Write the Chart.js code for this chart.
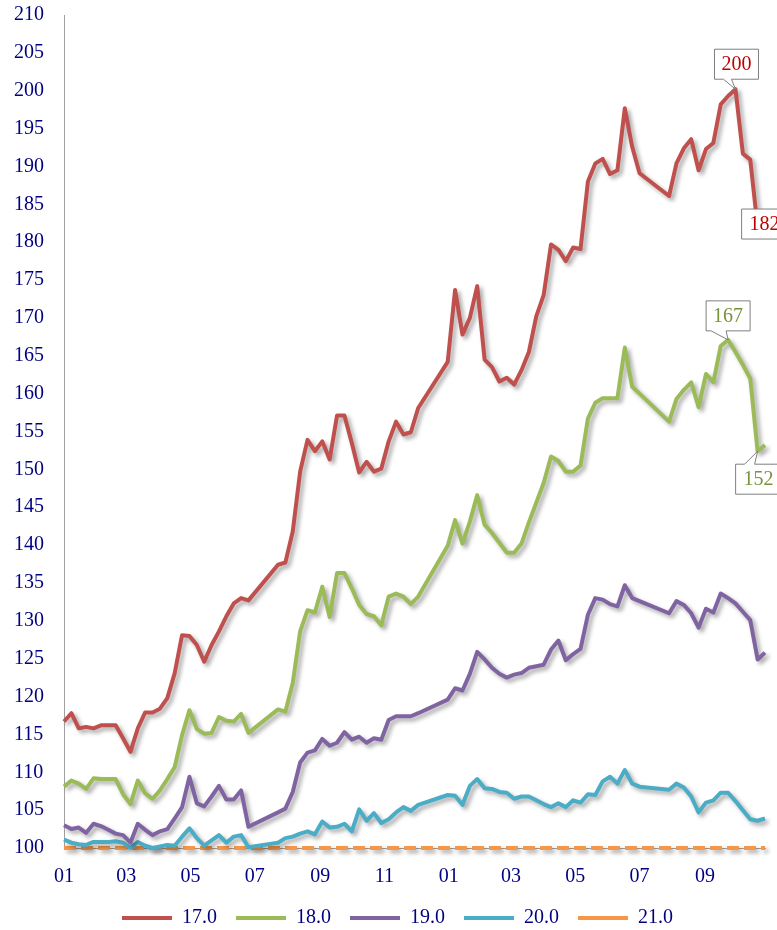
<!DOCTYPE html>
<html>
<head>
<meta charset="utf-8">
<script src="https://cdn.jsdelivr.net/npm/chart.js@4.4.1/dist/chart.umd.min.js"></script>
<style>
  html, body { margin: 0; padding: 0; background: #fff; }
  #wrap { width: 777px; height: 930px; position: relative; }
</style>
</head>
<body>
<div id="wrap"><canvas id="chart"></canvas></div>
<script>
// weekly observations, first week starting 2017-01-01
const startDate = '2017-01-01';
const weekCount = 96;

// x axis tick labels (every second month)
const tickDates = ['2017-01-01', '2017-03-01', '2017-05-01', '2017-07-01', '2017-09-01', '2017-11-01',
                   '2018-01-01', '2018-03-01', '2018-05-01', '2018-07-01', '2018-09-01'];
const tickMonths = ['01', '03', '05', '07', '09', '11', '01', '03', '05', '07', '09'];

const seriesNames = ['17.0', '18.0', '19.0', '20.0', '21.0'];

const s17 = [116.7, 117.8, 115.8, 116.0, 115.8, 116.2, 116.2, 116.2, 114.5, 112.7, 115.8, 117.9,
             117.9, 118.4, 119.8, 123.1, 128.1, 128.0, 126.8, 124.6, 126.8, 128.6, 130.6, 132.3,
             133.0, 132.7, null, null, null, 137.4, 137.7, 141.8, 149.7, 153.9, 152.4, 153.7,
             151.3, 157.1, 157.1, 153.5, 149.6, 151.0, 149.7, 150.1, 153.7, 156.3, 154.6, 154.9,
             158.1, null, null, null, 164.2, 173.7, 167.8, 170.0, 174.2, 164.5, 163.5, 161.6,
             162.1, 161.2, 163.1, 165.5, 170.2, 173.0, 179.7, 179.0, 177.5, 179.3, 179.1, 188.0,
             190.4, 191.0, 189.0, 189.5, 197.7, 192.6, 189.1, null, null, null, 186.1, 190.4,
             192.4, 193.6, 189.5, 192.3, 193.1, 198.2, 199.3, 200.2, 191.7, 190.9, 182.0, 182.6];

const s18 = [108.1, 108.9, 108.5, 107.8, 109.2, 109.1, 109.1, 109.1, 107.1, 105.8, 108.9, 107.2,
             106.5, 107.6, 109.1, 110.7, 114.9, 118.2, 115.7, 115.1, 115.2, 117.3, 116.8, 116.7,
             117.7, 115.2, null, null, null, 118.3, 118.0, 121.8, 128.6, 131.4, 131.1, 134.5,
             130.5, 136.3, 136.3, 134.3, 132.1, 130.9, 130.6, 129.4, 133.2, 133.6, 133.2, 132.2,
             133.2, null, null, null, 139.9, 143.3, 140.2, 143.1, 146.6, 142.7, 141.6, 140.3,
             139.0, 139.0, 140.2, 143.0, 145.6, 148.2, 151.7, 151.1, 149.7, 149.7, 150.5, 156.7,
             158.8, 159.4, 159.4, 159.4, 166.1, 160.9, 160.0, null, null, null, 156.3, 159.3,
             160.5, 161.5, 158.2, 162.6, 161.5, 166.3, 167.1, 165.5, 163.8, 162.0, 152.4, 153.2];

const s19 = [103.0, 102.5, 102.7, 102.0, 103.2, 102.9, 102.4, 101.9, 101.7, 100.7, 103.2, 102.4,
             101.7, 102.2, 102.5, 103.9, 105.4, 109.4, 105.9, 105.5, 106.8, 108.2, 106.4, 106.4,
             107.6, 102.8, null, null, null, 104.7, 105.2, 107.4, 111.3, 112.6, 112.9, 114.4,
             113.5, 113.9, 115.3, 114.3, 114.7, 113.9, 114.5, 114.3, 116.9, 117.4, 117.4, 117.4,
             117.8, null, null, null, 119.6, 121.1, 120.8, 123.0, 125.9, 124.9, 123.8, 123.0,
             122.5, 122.9, 123.1, 123.8, 124.0, 124.2, 126.2, 127.4, 124.8, 125.6, 126.3, 130.8,
             133.0, 132.8, 132.2, 131.9, 134.7, 133.0, 132.6, null, null, null, 131.0, 132.6,
             132.1, 131.0, 129.1, 131.6, 131.1, 133.6, 133.0, 132.3, 131.2, 130.1, 124.9, 125.8];

const s20 = [101.1, 100.7, 100.5, 100.4, 100.8, 100.8, 100.8, 100.9, 100.7, 100.0, 100.8, 100.3,
             100.0, 100.2, 100.4, 100.3, 101.5, 102.6, 101.3, 100.3, 101.0, 101.7, 100.7, 101.5,
             101.7, 100.1, null, null, null, 100.7, 101.3, 101.5, 101.9, 102.2, 101.8, 103.5,
             102.7, 102.8, 103.2, 102.2, 105.1, 103.6, 104.6, 103.3, 103.8, 104.7, 105.4, 104.9,
             105.7, null, null, null, 107.0, 106.9, 105.7, 108.2, 109.1, 107.9, 107.8, 107.4,
             107.3, 106.5, 106.8, 106.8, 106.3, 105.8, 105.4, 105.9, 105.4, 106.3, 106.0, 107.1,
             107.0, 108.8, 109.4, 108.5, 110.3, 108.5, 108.1, null, null, null, 107.7, 108.5,
             108.0, 106.8, 104.7, 106.0, 106.3, 107.3, 107.3, 106.2, 105.0, 103.8, 103.6, 103.9];

const s21 = [100, 100, 100, 100, 100, 100, 100, 100, 100, 100, 100, 100,
             100, 100, 100, 100, 100, 100, 100, 100, 100, 100, 100, 100,
             100, 100, 100, 100, 100, 100, 100, 100, 100, 100, 100, 100,
             100, 100, 100, 100, 100, 100, 100, 100, 100, 100, 100, 100,
             100, 100, 100, 100, 100, 100, 100, 100, 100, 100, 100, 100,
             100, 100, 100, 100, 100, 100, 100, 100, 100, 100, 100, 100,
             100, 100, 100, 100, 100, 100, 100, 100, 100, 100, 100, 100,
             100, 100, 100, 100, 100, 100, 100, 100, 100, 100, 100, 100];

const colors = ['#C0504D', '#9BBB59', '#8064A2', '#4BACC6', '#F79646'];
const navy = '#000080';
const serif = "'Liberation Serif', 'Times New Roman', serif";

// day offsets of each weekly point and of the month ticks
const dayNums = [];
for (let i = 0; i < weekCount; i++) dayNums.push(i * 7);
const dayOf = d => Math.round((Date.parse(d) - Date.parse(startDate)) / 86400000);
const tickDays = tickDates.map(dayOf);

function toPoints(values) {
    return values.map((v, i) => ({ x: dayNums[i], y: v }));
}

// callout boxes pinned to data points
const callouts = [
    { ds: 0, idx: 91, w: 44, h: 30, dx: 1, dy: -25, side: 'bottom', b1: -12, b2: -4, color: '#C00000' },
    { ds: 0, idx: 94, w: 46, h: 30, dx: 7, dy: -3, side: 'none', color: '#C00000' },
    { ds: 1, idx: 90, w: 44, h: 30, dx: 0, dy: -24, side: 'bottom', b1: -17, b2: -2, color: '#77933C' },
    { ds: 1, idx: 94, w: 46, h: 30, dx: 1, dy: 28, side: 'top', b1: -13, b2: -3, color: '#77933C' }
];

const shadowPlugin = {
    id: 'lineShadow',
    beforeDatasetDraw(chart) {
        const ctx = chart.ctx;
        ctx.save();
        ctx.shadowColor = 'rgba(0, 0, 0, 0.35)';
        ctx.shadowBlur = 4;
        ctx.shadowOffsetX = 3;
        ctx.shadowOffsetY = 3;
    },
    afterDatasetDraw(chart) {
        chart.ctx.restore();
    }
};

// legend sits a bit right of the canvas centre in the original
const legendShift = {
    id: 'legendShift',
    afterLayout(chart) {
        chart.legend.left += 8;
        chart.legend.right += 8;
    }
};

const calloutPlugin = {
    id: 'callouts',
    afterDatasetsDraw(chart) {
        const ctx = chart.ctx;
        callouts.forEach(c => {
            const pt = chart.getDatasetMeta(c.ds).data[c.idx];
            const value = chart.data.datasets[c.ds].data[c.idx].y;
            const cx = pt.x + c.dx, cy = pt.y + c.dy;
            const x = cx - c.w / 2, y = cy - c.h / 2;
            ctx.save();
            ctx.beginPath();
            if (c.side === 'bottom') {
                ctx.moveTo(x, y);
                ctx.lineTo(x + c.w, y);
                ctx.lineTo(x + c.w, y + c.h);
                ctx.lineTo(pt.x + c.b2, y + c.h);
                ctx.lineTo(pt.x, pt.y);
                ctx.lineTo(pt.x + c.b1, y + c.h);
                ctx.lineTo(x, y + c.h);
            } else if (c.side === 'top') {
                ctx.moveTo(x, y);
                ctx.lineTo(pt.x + c.b1, y);
                ctx.lineTo(pt.x, pt.y);
                ctx.lineTo(pt.x + c.b2, y);
                ctx.lineTo(x + c.w, y);
                ctx.lineTo(x + c.w, y + c.h);
                ctx.lineTo(x, y + c.h);
            } else {
                ctx.rect(x, y, c.w, c.h);
            }
            ctx.closePath();
            ctx.fillStyle = '#fff';
            ctx.fill();
            ctx.strokeStyle = '#7F7F7F';
            ctx.lineWidth = 1;
            ctx.stroke();
            ctx.fillStyle = c.color;
            ctx.font = '20px ' + serif;
            ctx.textAlign = 'center';
            ctx.textBaseline = 'middle';
            ctx.fillText(String(Math.round(value)), cx, cy + 1);
            ctx.restore();
        });
    }
};

const allSeries = [s17, s18, s19, s20, s21];

new Chart(document.getElementById('chart'), {
    type: 'line',
    data: {
        datasets: allSeries.map((s, k) => ({
            label: seriesNames[k],
            data: toPoints(s),
            borderColor: colors[k],
            backgroundColor: colors[k],
            borderWidth: 4,
            borderDash: k === 4 ? [12, 5] : [],
            borderJoinStyle: 'round',
            pointRadius: 0,
            tension: 0,
            spanGaps: true,
            clip: false
        }))
    },
    options: {
        responsive: true,
        maintainAspectRatio: false,
        animation: false,
        layout: { padding: { left: 14, right: 12, top: 0, bottom: -8 } },
        plugins: {
            tooltip: { enabled: false },
            legend: {
                position: 'bottom',
                labels: {
                    usePointStyle: true,
                    pointStyle: 'line',
                    pointStyleWidth: 50,
                    padding: 19,
                    color: navy,
                    font: { family: serif, size: 20 }
                }
            }
        },
        scales: {
            x: {
                type: 'linear',
                min: dayNums[0],
                max: dayNums[dayNums.length - 1],
                afterBuildTicks(scale) {
                    scale.ticks = tickDays.map(v => ({ value: v }));
                },
                afterFit(scale) { scale.height = 41; },
                grid: { display: false, drawTicks: false },
                border: { color: '#A0A0A0', width: 1 },
                ticks: {
                    autoSkip: false,
                    maxRotation: 0,
                    padding: 17,
                    color: navy,
                    font: { family: serif, size: 20 },
                    callback: (v, i) => tickMonths[i]
                }
            },
            y: {
                min: 100,
                max: 210,
                afterFit(scale) { scale.width = 50; },
                grid: { display: false, drawTicks: false },
                border: { color: '#A0A0A0', width: 1 },
                ticks: {
                    stepSize: 5,
                    padding: 3,
                    crossAlign: 'far',
                    color: navy,
                    font: { family: serif, size: 20 }
                }
            }
        }
    },
    plugins: [shadowPlugin, legendShift, calloutPlugin]
});
</script>
</body>
</html>
